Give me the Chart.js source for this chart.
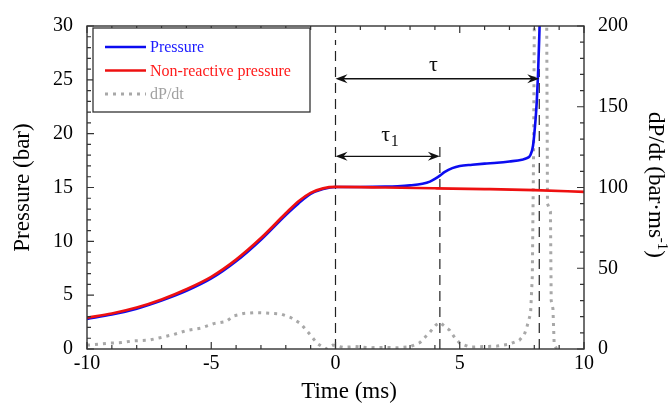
<!DOCTYPE html>
<html>
<head>
<meta charset="utf-8">
<script src="https://cdn.jsdelivr.net/npm/chart.js@4.4.1/dist/chart.umd.min.js"></script>
<style>
  html, body { margin: 0; padding: 0; background: #fff; }
  #wrap { width: 670px; height: 404px; position: relative; }
</style>
</head>
<body>
<div id="wrap"><canvas id="chart"></canvas></div>
<script>
// pressure trace (bar) against time (ms)
const pTime = [-10,-9,-8,-7,-6,-5,-4,-3,-2,-1.5,-1,-0.5,0,1,2,2.5,3,3.5,3.8,4.0,4.2,4.4,4.7,5.0,5.5,6,6.5,7,7.5,7.7,7.85,7.95,8.05,8.1,8.15,8.2,8.25];
const pressure = [2.8,3.2,3.75,4.5,5.4,6.55,8.15,10.15,12.45,13.5,14.4,14.85,15.05,15.05,15.08,15.12,15.2,15.35,15.55,15.8,16.1,16.45,16.8,17.0,17.12,17.22,17.3,17.42,17.58,17.72,18.05,18.9,21.3,23,25.5,29,33];

// non-reactive pressure (bar)
const nrTime = [-10,-9,-8,-7,-6,-5,-4,-3,-2,-1.5,-1,-0.5,0,2,4,6,8,10];
const nonReactive = [2.9,3.3,3.85,4.6,5.55,6.7,8.3,10.3,12.6,13.7,14.5,14.92,15.05,15.0,14.93,14.85,14.75,14.6];

// dP/dt (bar/ms), right axis
const dTime = [-10,-9.5,-9.1,-8.6,-8.15,-7.5,-7.06,-6.5,-5.98,-5.4,-4.9,-4.4,-4.1,-3.7,-3.3,-2.8,-2.2,-1.8,-1.4,-1.0,-0.75,-0.4,-0.1,0.3,0.8,1.3,2,2.5,3.0,3.4,3.8,4.05,4.2,4.4,4.6,4.8,5.0,5.4,6,6.5,7,7.4,7.6,7.7,7.85,7.92,7.97,8.0,8.04,8.25,8.45,8.5,8.53,8.65,8.68,8.75,8.8,8.9];
const dPdt = [2.4,3,3.6,4,5,5.5,7,9,11.5,13,15.7,17,20.5,22,22.5,22.3,21.7,19.5,15.7,8.5,3.6,0,2.4,1,1.5,0.8,1,0.8,1.4,4,10.5,15,16.5,14,11.5,7,3.6,1.2,1.5,1.8,3,5.4,9,13.5,22,45,120,200,280,500,320,200,90,85,30,25,3,0];

// marker lines (ms) and how high they reach (bar)
const markTimes = [0, 4.2, 8.2];
const markTops = [28.7, 18.8, 26];

// delay arrows: start, end, level (bar)
const delayNames = ['τ', 'τ1'];
const delayStart = [0, 0];
const delayEnd = [8.2, 4.2];
const delayLevel = [25.1, 17.9];

const xTicks = [-10, -5, 0, 5, 10];
const serif = '"Liberation Serif", "Times New Roman", serif';

function pts(xs, ys) {
    return xs.map((x, i) => ({x: x, y: ys[i]}));
}

const datasets = [
    {
        label: 'Pressure',
        data: pts(pTime, pressure),
        borderColor: '#0c0cf0',
        borderWidth: 2.6,
        cubicInterpolationMode: 'monotone',
        yAxisID: 'y',
        order: 2
    },
    {
        label: 'Non-reactive pressure',
        data: pts(nrTime, nonReactive),
        borderColor: '#ee1010',
        borderWidth: 2.7,
        cubicInterpolationMode: 'monotone',
        yAxisID: 'y',
        order: 1
    },
    {
        label: 'dP/dt',
        data: pts(dTime, dPdt),
        borderColor: '#a8a8a8',
        borderWidth: 3,
        borderDash: [3, 5],
        yAxisID: 'y2',
        order: 3
    }
];
markTimes.forEach((t, i) => {
    datasets.push({
        label: 'mark' + i,
        data: [{x: t, y: 0}, {x: t, y: markTops[i]}],
        borderColor: '#222',
        borderWidth: 1.2,
        borderDash: [10, 6],
        yAxisID: 'y',
        order: 4
    });
});

function arrowHead(ctx, x, y, dir) {
    const L = 12, W = 4.5, N = 4;
    ctx.beginPath();
    ctx.moveTo(x, y);
    ctx.lineTo(x - dir * L, y - W);
    ctx.lineTo(x - dir * (L - N), y);
    ctx.lineTo(x - dir * L, y + W);
    ctx.closePath();
    ctx.fill();
}

const decorations = {
    id: 'decorations',
    afterDraw(chart) {
        const ctx = chart.ctx;
        const a = chart.chartArea;
        const sx = chart.scales.x, sy = chart.scales.y, sy2 = chart.scales.y2;
        ctx.save();

        // frame
        ctx.strokeStyle = '#333';
        ctx.lineWidth = 1.4;
        ctx.strokeRect(a.left, a.top, a.right - a.left, a.bottom - a.top);

        // inward ticks
        ctx.lineWidth = 1.2;
        ctx.beginPath();
        for (let v = -10; v <= 10; v++) {
            const px = sx.getPixelForValue(v);
            const len = v % 5 === 0 ? 7 : 4;
            ctx.moveTo(px, a.bottom); ctx.lineTo(px, a.bottom - len);
            ctx.moveTo(px, a.top); ctx.lineTo(px, a.top + len);
        }
        for (let v = 0; v <= 30; v++) {
            const py = sy.getPixelForValue(v);
            const len = v % 5 === 0 ? 7 : 4;
            ctx.moveTo(a.left, py); ctx.lineTo(a.left + len, py);
        }
        for (let v = 0; v <= 200; v += 10) {
            const py = sy2.getPixelForValue(v);
            const len = v % 50 === 0 ? 7 : 4;
            ctx.moveTo(a.right, py); ctx.lineTo(a.right - len, py);
        }
        ctx.stroke();

        // delay arrows
        ctx.strokeStyle = '#111';
        ctx.fillStyle = '#111';
        ctx.lineWidth = 1.3;
        delayNames.forEach((name, i) => {
            const x0 = sx.getPixelForValue(delayStart[i]);
            const x1 = sx.getPixelForValue(delayEnd[i]);
            const y = sy.getPixelForValue(delayLevel[i]);
            ctx.beginPath();
            ctx.moveTo(x0 + 4, y); ctx.lineTo(x1 - 4, y);
            ctx.stroke();
            arrowHead(ctx, x0, y, -1);
            arrowHead(ctx, x1, y, 1);
            const xm = (x0 + x1) / 2;
            ctx.font = '22px ' + serif;
            ctx.textAlign = 'center';
            ctx.textBaseline = 'alphabetic';
            if (name.length > 1) {
                ctx.fillText(name[0], xm - 2, y - 15);
                ctx.font = '16px ' + serif;
                ctx.fillText(name.slice(1), xm + 7, y - 10);
            } else {
                ctx.fillText(name, xm - 4, y - 8);
            }
        });

        // legend
        const lx = 93, ly = 28, lw = 217, lh = 84;
        ctx.fillStyle = '#fff';
        ctx.fillRect(lx, ly, lw, lh);
        ctx.strokeStyle = '#333';
        ctx.lineWidth = 1.3;
        ctx.strokeRect(lx, ly, lw, lh);
        const textCols = ['#1a1aff', '#ff1a1a', '#a0a0a0'];
        [0, 1, 2].forEach(i => {
            const ds = chart.data.datasets[i];
            const y = 47 + i * 23.5;
            ctx.save();
            ctx.strokeStyle = ds.borderColor;
            ctx.lineWidth = ds.borderWidth;
            ctx.setLineDash(ds.borderDash || []);
            ctx.beginPath();
            ctx.moveTo(105, y); ctx.lineTo(146, y);
            ctx.stroke();
            ctx.restore();
            ctx.fillStyle = textCols[i];
            ctx.font = '16px ' + serif;
            ctx.textAlign = 'left';
            ctx.textBaseline = 'middle';
            ctx.fillText(ds.label, 150, y + 1);
        });

        // axis titles
        ctx.fillStyle = '#000';
        ctx.font = '23px ' + serif;
        ctx.textAlign = 'center';
        ctx.textBaseline = 'alphabetic';
        ctx.fillText('Time (ms)', 349, 398);

        ctx.save();
        ctx.translate(23, (a.top + a.bottom) / 2);
        ctx.rotate(-Math.PI / 2);
        ctx.textBaseline = 'middle';
        ctx.fillText('Pressure (bar)', 0, 0);
        ctx.restore();

        ctx.save();
        ctx.translate(655, 185);
        ctx.rotate(Math.PI / 2);
        ctx.textBaseline = 'middle';
        ctx.textAlign = 'left';
        const t1 = 'dP/dt (bar·ms', t2 = '-1', t3 = ')';
        ctx.font = '23px ' + serif;
        const w1 = ctx.measureText(t1).width, w3 = ctx.measureText(t3).width;
        ctx.font = '15px ' + serif;
        const w2 = ctx.measureText(t2).width;
        let xs = -(w1 + w2 + w3) / 2;
        ctx.font = '23px ' + serif;
        ctx.fillText(t1, xs, 0);
        xs += w1;
        ctx.font = '15px ' + serif;
        ctx.fillText(t2, xs, -7);
        xs += w2;
        ctx.font = '23px ' + serif;
        ctx.fillText(t3, xs, 0);
        ctx.restore();

        ctx.restore();
    }
};

const tickFont = {family: serif, size: 20};

new Chart(document.getElementById('chart').getContext('2d'), {
    type: 'line',
    data: {datasets: datasets},
    options: {
        responsive: true,
        maintainAspectRatio: false,
        animation: false,
        layout: {padding: {top: 18, left: 0, right: 0, bottom: 0}},
        elements: {point: {radius: 0}, line: {tension: 0}},
        plugins: {legend: {display: false}, tooltip: {enabled: false}},
        scales: {
            x: {
                type: 'linear',
                min: -10,
                max: 10,
                afterBuildTicks: s => { s.ticks = xTicks.map(v => ({value: v})); },
                ticks: {font: tickFont, color: '#000', padding: 3, maxRotation: 0},
                grid: {display: false, drawTicks: false},
                border: {display: false},
                afterFit: s => { s.height = 55; }
            },
            y: {
                position: 'left',
                min: 0,
                max: 30,
                ticks: {stepSize: 5, font: tickFont, color: '#000', padding: 14},
                grid: {display: false, drawTicks: false},
                border: {display: false},
                afterFit: s => { s.width = 87; }
            },
            y2: {
                position: 'right',
                min: 0,
                max: 200,
                ticks: {stepSize: 50, font: tickFont, color: '#000', padding: 14},
                grid: {display: false, drawTicks: false},
                border: {display: false},
                afterFit: s => { s.width = 86; }
            }
        }
    },
    plugins: [decorations]
});
</script>
</body>
</html>
